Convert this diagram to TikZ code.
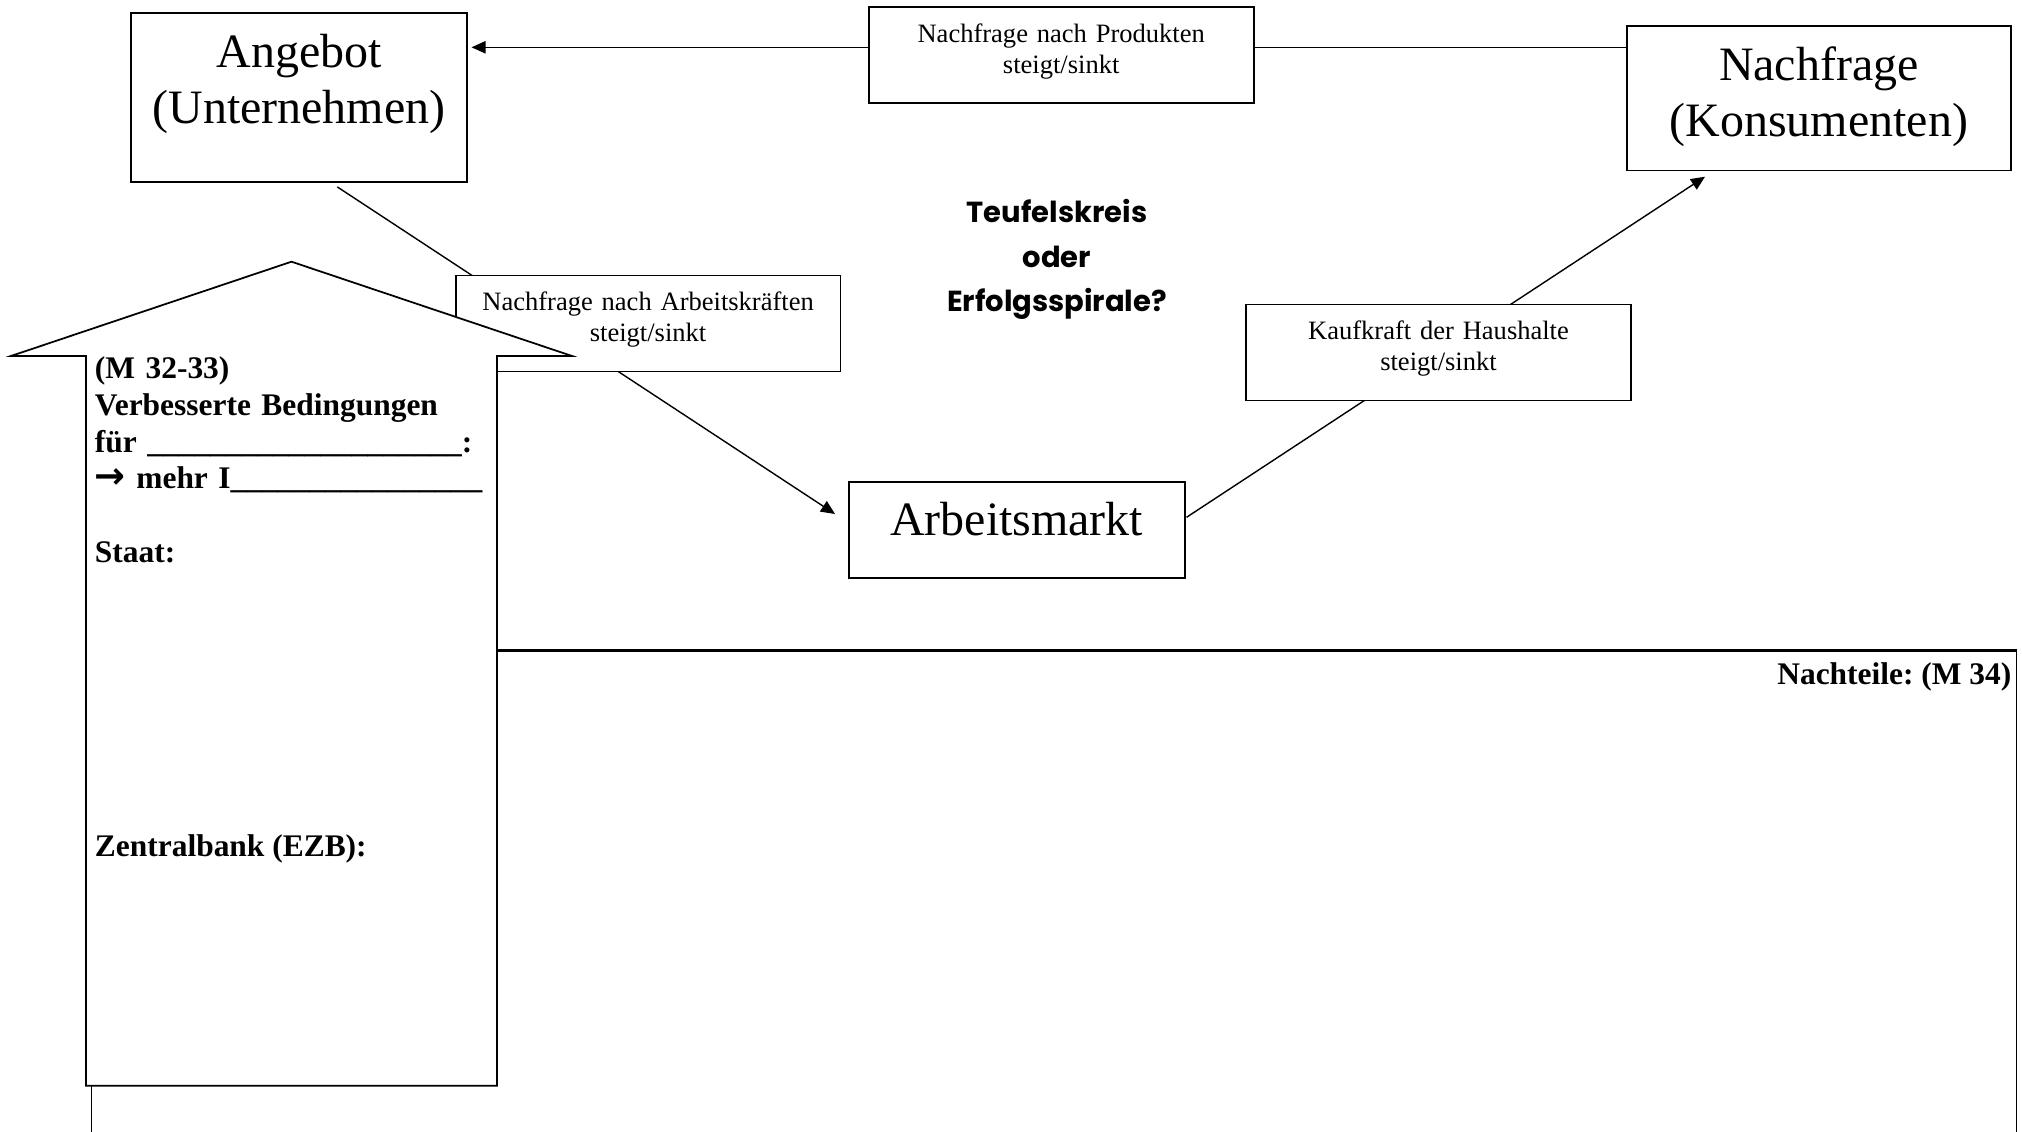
\documentclass[tikz,border=0pt]{standalone}
\usepackage{fontspec}
\setmainfont{Liberation Serif}
\newfontfamily\comicfont{Poppins}
\newfontfamily\symfont{DejaVu Sans}
\usetikzlibrary{arrows.meta,calc}
\frenchspacing
\begin{document}
\begin{tikzpicture}[x=0.02cm,y=-0.02cm,
	box/.style={draw,line width=1pt,fill=white,inner sep=0pt,align=center},
	bigbox/.style={box,text width=6.72cm,text height=1.08cm,font=\fontsize{27.3}{32}\selectfont},
	smallbox/.style={box,text width=7.7cm,text height=0.7cm,text depth=1.22cm,font=\fontsize{15.1}{17.9}\selectfont},
	conn/.style={line width=0.8pt},
	pfeil/.style={conn,-{Triangle[length=8pt,width=7pt]}},
	bold/.style={inner sep=0pt,font=\bfseries\fontsize{17.9}{20.9}\selectfont}]
	\useasboundingbox (0,0) rectangle (2022,1132);
	% Nachteile (unten offen)
	\draw[line width=0.6pt] (91.7,1140) -- (91.7,650.7) -- (2016.7,650.7) -- (2016.7,1140);
	\draw[line width=1.4pt] (91.7,650.7) -- (2016.7,650.7);
	% Kreislauf
	\node[bigbox,text depth=2.29cm] (angebot) at (299,97.5) {Angebot\\(Unternehmen)};
	\node[bigbox,text width=7.67cm,text depth=1.81cm] (nachfrage) at (1818.9,98.3) {Nachfrage\\(Konsumenten)};
	\node[bigbox,text depth=0.84cm] (arbeitsmarkt) at (1016.7,529.7) {Arbeitsmarkt};
	\coordinate (oben) at (0,47.3);
	\draw[pfeil,shorten >=2.1pt] (nachfrage.west |- oben) -- (angebot.east |- oben);
	\draw[pfeil] ($(angebot.south)+(38.3,4.3)$) -- ($(arbeitsmarkt.west)+(-12.8,-15.7)$);
	\draw[pfeil] ($(arbeitsmarkt.east)+(1,-12.4)$) -- ($(nachfrage.south)+(-113.9,5.3)$);
	\node[smallbox] (produkte) at (1061.2,55.3) {Nachfrage nach Produkten\\steigt/sinkt};
	\node[smallbox] (arbeitskraefte) at (648.1,323.5) {Nachfrage nach Arbeitskräften\\steigt/sinkt};
	\node[smallbox] (kaufkraft) at (1438.5,352.4) {Kaufkraft der Haushalte\\steigt/sinkt};
	% grosser Pfeil
	\draw[line width=1pt,fill=white] (291.5,261.7) -- (572,356) -- (497,356) -- (497,1085.7)
		-- (86,1085.7) -- (86,356) -- (11,356) -- cycle;
	\node[bold,text width=8.5cm,align=left,anchor=base west] (bedingungen) at (94.6,378.6)
		{(M 32-33)\\Verbesserte Bedingungen\\für \_\_\_\_\_\_\_\_\_\_\_\_\_\_\_\_\_\_\_\_:\\{\symfont\fontsize{21}{20.9}\selectfont→} mehr I\_\_\_\_\_\_\_\_\_\_\_\_\_\_\_\_};
	\node[bold,anchor=base west] (staat) at (94.6,562.7) {Staat:};
	\node[bold,anchor=base west] (ezb) at (94.6,856.9) {Zentralbank (EZB):};
	\node[bold,anchor=base east] (nachteile) at (2011.7,684) {Nachteile: (M 34)};
	\node[align=center,text width=6cm,inner sep=0pt,anchor=base,
		font=\comicfont\bfseries\fontsize{16.5}{25.3}\selectfont] (frage) at (1057,222.7)
		{Teufelskreis\\oder\\Erfolgsspirale?};
\end{tikzpicture}
\end{document}
